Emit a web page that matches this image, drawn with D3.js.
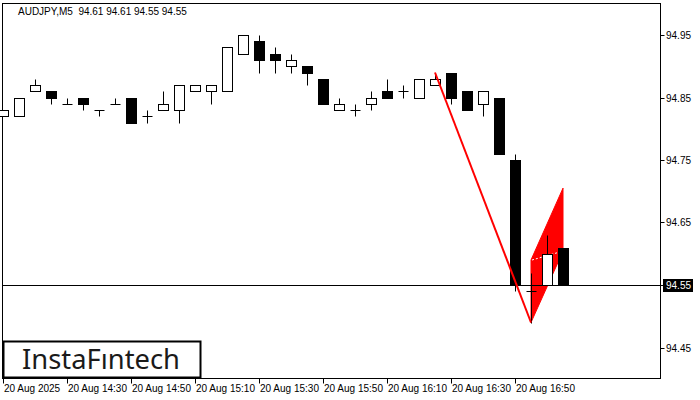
<!DOCTYPE html>
<html><head><meta charset="utf-8">
<script src="https://cdn.jsdelivr.net/npm/d3@7"></script>
<style>html,body{margin:0;padding:0;background:#fff;}svg{display:block;}</style>
</head><body>
<svg id="chart" width="700" height="400"></svg>
<script>
// ---- data ----
const symbolTitle = "AUDJPY,M5  94.61 94.61 94.55 94.55";
const opens  = [94.82,94.82,94.86,94.86,94.84,94.85,94.83,94.84,94.85,94.82,94.83,94.83,94.86,94.86,94.86,94.92,94.94,94.92,94.90,94.90,94.88,94.83,94.83,94.84,94.86,94.86,94.85,94.87,94.89,94.86,94.84,94.85,94.75,94.54,94.55,94.61];
const highs  = [94.83,94.85,94.88,94.86,94.85,94.85,94.83,94.85,94.85,94.83,94.86,94.87,94.87,94.87,94.93,94.95,94.95,94.93,94.92,94.90,94.88,94.85,94.84,94.86,94.88,94.87,94.88,94.89,94.89,94.86,94.86,94.85,94.76,94.57,94.63,94.61];
const lows   = [94.82,94.82,94.86,94.84,94.84,94.83,94.82,94.84,94.81,94.81,94.83,94.81,94.86,94.84,94.86,94.92,94.89,94.89,94.89,94.87,94.84,94.83,94.82,94.83,94.85,94.85,94.85,94.87,94.84,94.83,94.82,94.76,94.54,94.49,94.55,94.55];
const closes = [94.83,94.85,94.87,94.85,94.84,94.84,94.83,94.84,94.81,94.82,94.84,94.87,94.87,94.87,94.93,94.95,94.91,94.91,94.91,94.89,94.84,94.84,94.83,94.85,94.85,94.86,94.88,94.88,94.85,94.83,94.86,94.76,94.55,94.54,94.60,94.55];
const timeTickIdx = [0,4,8,12,16,20,24,28,32];
const timeLabels  = ["20 Aug 2025","20 Aug 14:30","20 Aug 14:50","20 Aug 15:10","20 Aug 15:30","20 Aug 15:50","20 Aug 16:10","20 Aug 16:30","20 Aug 16:50"];
const priceTicks  = [94.95,94.85,94.75,94.65,94.55,94.45];
const priceTickLabels = ["94.95","94.85","94.75","94.65","94.55","94.45"];
const currentPrice = 94.55;
// flag pattern: pole (index, price) and flag corners
const poleIdx   = [27,33];
const polePrice = [94.89,94.49];
const flagIdx   = [33,35,35,33];
const flagPrice = [94.59,94.705,94.604,94.49];

// ---- layout ----
const svg = d3.select("#chart");
const L = 2.5, R = 660.5, T = 3.5, B = 378.5;
const x = d3.scaleLinear().domain([0,35]).range([3,563]);
const y = d3.scaleLinear().domain([94.45,94.95]).range([347.5,35]);
const font = "'Liberation Sans', Arial, sans-serif";

// frame
svg.append("rect").attr("x",L).attr("y",T).attr("width",R-L).attr("height",B-T)
  .attr("fill","#fff").attr("stroke","#000").attr("stroke-width",1);

// title
svg.append("text").attr("x",18).attr("y",15).attr("font-family",font).attr("font-size",10)
  .attr("fill","#000").attr("xml:space","preserve").style("white-space","pre").text(symbolTitle);

// flag body
const flagPts = flagIdx.map((d,i)=>[x(d), y(flagPrice[i])]);
svg.append("path").attr("d", d3.line()(flagPts)+"Z").attr("fill","#ff0000").attr("stroke","#ff0000").attr("stroke-width",1);
svg.append("line").attr("x1",flagPts[0][0]+1).attr("y1",flagPts[0][1]).attr("x2",flagPts[2][0]-4).attr("y2",flagPts[2][1]+1)
  .attr("stroke","#fff").attr("stroke-width",1).attr("stroke-dasharray","2,2");

// current price line
svg.append("line").attr("x1",L).attr("x2",R).attr("y1",Math.round(y(currentPrice))+0.5).attr("y2",Math.round(y(currentPrice))+0.5)
  .attr("stroke","#000").attr("stroke-width",1);

// candles
const candles = opens.map((o,i)=>({i,o,h:highs[i],l:lows[i],c:closes[i]}));
const g = svg.append("g");
const px = v => Math.round(v)+0.5;
candles.forEach(d=>{
  const cx = x(d.i)+0.5;
  const top = Math.max(d.o,d.c), bot = Math.min(d.o,d.c);
  const yt = px(y(top)), yb = px(y(bot));
  // wicks
  if (y(d.h) < yt) g.append("line").attr("x1",cx).attr("x2",cx).attr("y1",px(y(d.h))).attr("y2",yt).attr("stroke","#000");
  if (y(d.l) > yb) g.append("line").attr("x1",cx).attr("x2",cx).attr("y1",yb).attr("y2",px(y(d.l))).attr("stroke","#000");
  if (yb - yt < 1) {
    g.append("line").attr("x1",cx-5).attr("x2",cx+5).attr("y1",yt).attr("y2",yt).attr("stroke","#000");
  } else {
    g.append("rect").attr("x",cx-5).attr("y",yt).attr("width",10).attr("height",yb-yt)
      .attr("fill", d.c < d.o ? "#000" : "#fff").attr("stroke","#000").attr("stroke-width",1);
  }
});

// pole line
svg.append("line").attr("x1",x(poleIdx[0])).attr("y1",y(polePrice[0])).attr("x2",x(poleIdx[1])).attr("y2",y(polePrice[1]))
  .attr("stroke","#ff0000").attr("stroke-width",2);

// y axis ticks & labels
priceTicks.forEach((p,i)=>{
  const yy = Math.round(y(p))+0.5;
  svg.append("line").attr("x1",R).attr("x2",R+4).attr("y1",yy).attr("y2",yy).attr("stroke","#000");
  svg.append("text").attr("x",666).attr("y",yy+3.5).attr("font-family",font).attr("font-size",10).attr("fill","#000").text(priceTickLabels[i]);
});
// current price label
const cy = Math.round(y(currentPrice))+0.5;
svg.append("rect").attr("x",663).attr("y",cy-6.5).attr("width",30).attr("height",13).attr("fill","#000");
svg.append("text").attr("x",666).attr("y",cy+3.5).attr("font-family",font).attr("font-size",10).attr("fill","#fff").text(d3.format(".2f")(currentPrice));

// x axis ticks & labels
timeTickIdx.forEach((t,i)=>{
  const xx = x(t)+0.5;
  svg.append("line").attr("x1",xx).attr("x2",xx).attr("y1",B).attr("y2",B+5).attr("stroke","#000");
  svg.append("text").attr("x",x(t)+1).attr("y",392).attr("font-family",font).attr("font-size",10).attr("fill","#000").text(timeLabels[i]);
});

// logo
svg.append("rect").attr("x",3.5).attr("y",341.5).attr("width",197).attr("height",36).attr("fill","#fff").attr("stroke","#000").attr("stroke-width",2);
svg.append("text").attr("x",22).attr("y",369).attr("font-family","'Noto Sans', 'Open Sans', sans-serif").attr("font-size",27)
  .attr("fill","#1a1a1a").attr("textLength",158).attr("lengthAdjust","spacingAndGlyphs").text("InstaF\u0131ntech");
</script>
</body></html>
